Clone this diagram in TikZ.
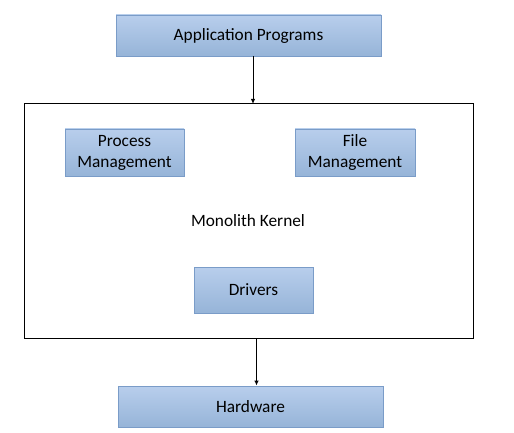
\documentclass[tikz,border=0pt]{standalone}
\usepackage{fontspec}
\setmainfont{Carlito}
\usetikzlibrary{arrows.meta}
\begin{document}
\begin{tikzpicture}[x=1pt,y=-1pt,
  bluebox/.style={draw=blue!40!gray!80, line width=0.8pt, top color={rgb,255:red,184;green,206;blue,236}, bottom color={rgb,255:red,150;green,180;blue,216}, align=center, inner sep=0pt, font=\fontsize{17.3}{21}\selectfont},
  conn/.style={draw=black, line width=1pt, -{Latex[length=5pt,width=4.5pt]}}]
\useasboundingbox (0,0) rectangle (514,433);
\definecolor{bordblue}{RGB}{122,156,200}
\tikzset{bluebox/.append style={draw=bordblue}}
\node[bluebox, minimum width=265pt, minimum height=41pt] (app) at (248.5,35.5) {Application Programs};
\node[draw=black, line width=1pt, minimum width=449pt, minimum height=234pt, inner sep=0pt] (kernel) at (248.5,221) {};
\node[font=\fontsize{17.3}{21}\selectfont] (ktext) at (248,221) {Monolith Kernel};
\node[bluebox, minimum width=119pt, minimum height=47pt] (pm) at (124.5,152.5) {Process\\Management};
\node[bluebox, minimum width=120pt, minimum height=47pt] (fm) at (355,152.5) {File\\Management};
\node[bluebox, minimum width=119pt, minimum height=46pt] (drv) at (253.5,290) {Drivers};
\node[bluebox, minimum width=265pt, minimum height=41pt] (hw) at (250.5,406.5) {Hardware};
\draw[conn] (app.south -| 253,0) -- (253,104);
\draw[conn] (256.5,338) -- (hw.north -| 256.5,0);
\end{tikzpicture}
\end{document}
